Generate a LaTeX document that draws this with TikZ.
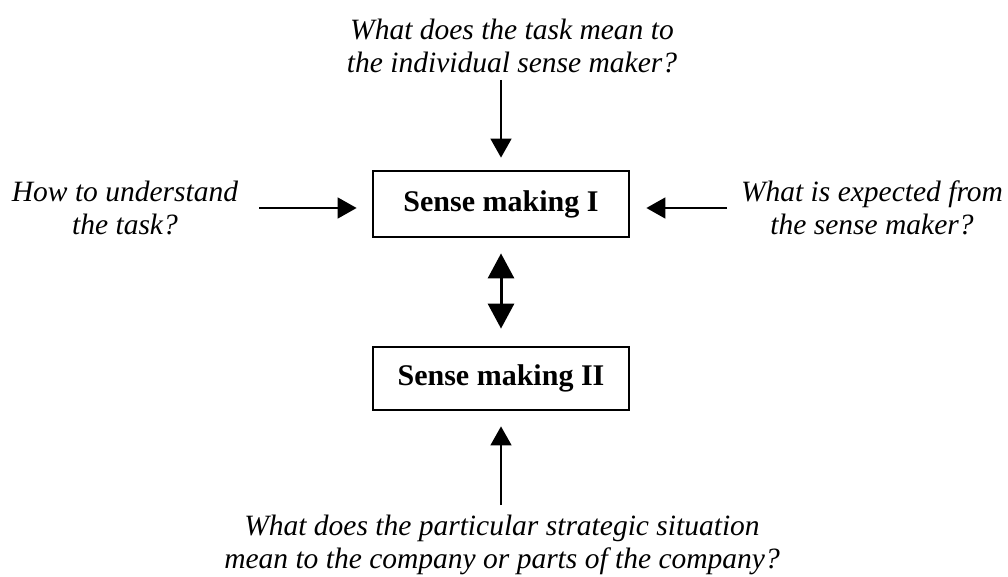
\documentclass[tikz,border=0pt]{standalone}
\usepackage{fontspec}
\setmainfont{Liberation Serif}
\usetikzlibrary{arrows.meta}
\begin{document}
\begin{tikzpicture}[x=1pt,y=-1pt,
  question/.style={font=\fontsize{29.5}{33}\selectfont\itshape, align=center, inner sep=0pt},
  stagebox/.style={draw, line width=2.8pt, minimum width=256pt, minimum height=66pt,
    font=\fontsize{30}{34}\selectfont\bfseries, inner sep=0pt},
  thinarrow/.style={line width=1.6pt, -{Triangle[length=19pt,width=21pt]}},
  bothways/.style={line width=3pt,
    {Triangle[length=25pt,width=26pt]}-{Triangle[length=25pt,width=26pt]}}]
\useasboundingbox (0,0) rectangle (1008,577);

% the two sense making stages
\node[stagebox] (s1) at (501,204) {Sense making I};
\node[stagebox, minimum height=63pt] (s2) at (501,378.5) {Sense making II};

% questions around the stages
\node[question] (qtop) at (512,46) {What does the task mean to\\the individual sense maker?};
\node[question] (qleft) at (125,208) {How to understand\\the task?};
\node[question] (qright) at (872,208) {What is expected from\\the sense maker?};
\node[question] (qbottom) at (502,545) {What does the particular strategic situation\\mean to the company or parts of the company?};

% free ends of the arrows
\coordinate (ta) at (501,80);
\coordinate (la) at (259,208);
\coordinate (ra) at (727,208);
\coordinate (ba) at (501,505);

\draw[thinarrow, shorten >=12pt] (ta) -- (s1.north);
\draw[thinarrow, shorten >=15pt] (la) -- (la -| s1.west);
\draw[thinarrow, shorten >=16pt] (ra) -- (ra -| s1.east);
\draw[thinarrow, shorten >=15pt] (ba) -- (s2.south);
\draw[bothways, shorten <=15pt, shorten >=17pt] (s1.south) -- (s2.north);
\end{tikzpicture}
\end{document}
